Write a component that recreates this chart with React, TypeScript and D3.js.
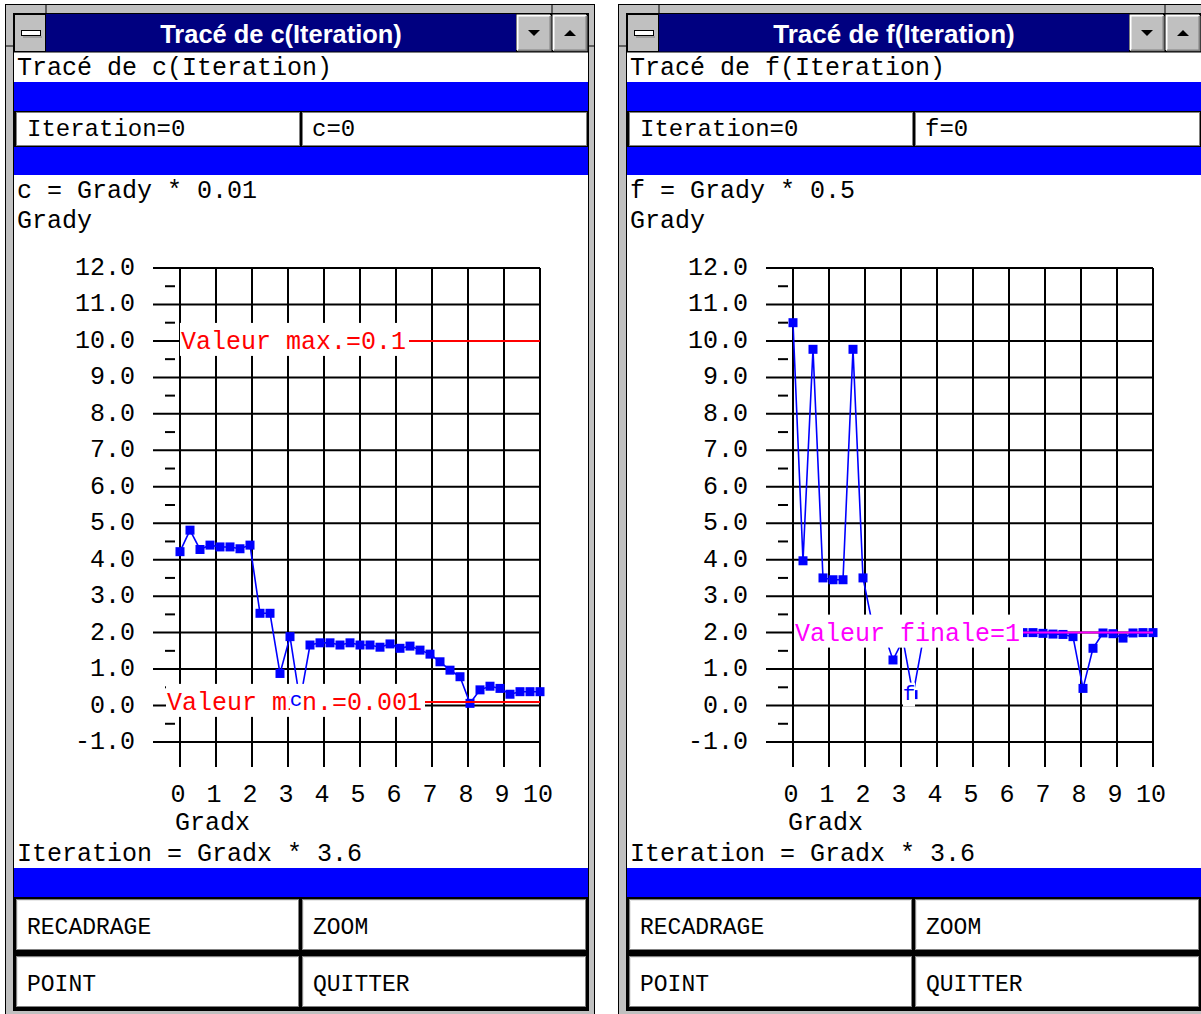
import React from "react";
import { scaleLinear, line, range } from "d3";

// iteration index 0..36, Gradx = Iteration / 3.6
const iterations = range(0, 37);
const gradyTicks = range(-1, 13);
const gradyMinor = range(-0.5, 12, 1);
const gradxTicks = range(0, 11);

// plotted values, in Grady units
const cSeries = [
  4.22, 4.81, 4.28, 4.4, 4.35, 4.35, 4.3, 4.4, 2.53, 2.53, 0.88, 1.89, 0.12,
  1.66, 1.72, 1.72, 1.66, 1.72, 1.66, 1.66, 1.6, 1.69, 1.57, 1.63, 1.52, 1.41,
  1.2, 0.97, 0.79, 0.06, 0.43, 0.53, 0.47, 0.31, 0.38, 0.38, 0.38,
];
const fSeries = [
  10.5, 3.97, 9.77, 3.5, 3.45, 3.45, 9.77, 3.5, 2.15, 2.07, 1.25, 1.8, 0.3,
  1.8, 1.98, 2.0, 1.97, 2.0, 2.0, 1.98, 2.0, 2.0, 2.0, 2.0, 2.0, 1.98, 1.96,
  1.95, 1.89, 0.47, 1.57, 1.99, 1.97, 1.85, 1.99, 2.0, 2.0,
];

const cLimitLabels = ["Valeur max.=0.1", "Valeur min.=0.001"];
const cLimitValues = [10, 0.1];
const fLimitLabels = ["Valeur finale=1"];
const fLimitValues = [2];

const labelIteration = 12;

const MONO = "'Liberation Mono', 'DejaVu Sans Mono', monospace";
const FS = 25;
const CW = 15; // char width at FS

interface WinProps {
  ox: number;
  fn: string;
  factor: string;
  values: number[];
  limitLabels: string[];
  limitValues: number[];
  limitColor: string;
  limitDx: number[];
}

function Bevel({ x, y, w, h }: { x: number; y: number; w: number; h: number }) {
  return (
    <g>
      <rect x={x + 0.5} y={y + 0.5} width={w - 1} height={h - 1} fill="#c0c0c0" stroke="#000" />
      <path d={`M${x + 1.5},${y + h - 2}V${y + 1.5}H${x + w - 2}`} stroke="#fff" strokeWidth={2} fill="none" />
      <path d={`M${x + 2},${y + h - 1.5}H${x + w - 1.5}V${y + 2}`} stroke="#808080" strokeWidth={2} fill="none" />
    </g>
  );
}

function Button({ x, y, w, h, label }: { x: number; y: number; w: number; h: number; label: string }) {
  return (
    <g>
      <rect x={x + 0.5} y={y + 0.5} width={w - 1} height={h - 1} fill="#fff" stroke="#808080" />
      <path d={`M${x + 1.5},${y + h - 2}V${y + 1.5}H${x + w - 2}`} stroke="#e8e8e8" strokeWidth={1} fill="none" />
      <text x={x + 11} y={y + 35} fontFamily={MONO} fontSize={FS - 2} fill="#000">
        {label}
      </text>
    </g>
  );
}

function ChartWindow({ ox, fn, factor, values, limitLabels, limitValues, limitColor, limitDx }: WinProps) {
  const x = scaleLinear().domain([0, 10]).range([ox + 180, ox + 540]);
  const y = scaleLinear().domain([-1, 12]).range([742, 268]);
  const pts: [number, number][] = iterations.map((it, i) => [x(it / 3.6), y(values[i])]);
  const path = line()(pts) || "";
  const title = `Tracé de ${fn}(Iteration)`;
  const lx = x(labelIteration / 3.6) - 4;
  const ly = y(values[labelIteration]);

  return (
    <g>
      {/* window frame */}
      <rect x={ox + 5.5} y={4.5} width={589} height={1030} fill="#c0c0c0" stroke="#000" />
      <line x1={ox + 46} x2={ox + 46} y1={4} y2={13} stroke="#000" />
      <line x1={ox + 552} x2={ox + 552} y1={4} y2={13} stroke="#000" />
      <line x1={ox + 5} x2={ox + 13} y1={46} y2={46} stroke="#000" />
      <line x1={ox + 588} x2={ox + 595} y1={46} y2={46} stroke="#000" />
      <rect x={ox + 13.5} y={13.5} width={575} height={997} fill="#fff" stroke="#000" />

      {/* title bar */}
      <rect x={ox + 14} y={14} width={574} height={38} fill="#000080" />
      <rect x={ox + 14.5} y={14.5} width={31} height={37} fill="#c0c0c0" stroke="#000" />
      <rect x={ox + 21.5} y={30.5} width={19} height={5} fill="#fff" stroke="#000" />
      <line x1={ox + 23} x2={ox + 42} y1={37} y2={37} stroke="#808080" />
      <text
        x={ox + 281}
        y={43}
        textAnchor="middle"
        fill="#fff"
        fontFamily="'Liberation Sans Narrow', 'Arial Narrow', 'Liberation Sans', sans-serif"
        fontWeight="bold"
        fontSize={26}
        textLength={title.length * 11.5}
        lengthAdjust="spacingAndGlyphs"
      >
        {title}
      </text>
      <Bevel x={ox + 516} y={14} w={36} h={38} />
      <Bevel x={ox + 552} y={14} w={36} h={38} />
      <path d={`M${ox + 528},${30}h12l-6,6z`} fill="#000" />
      <path d={`M${ox + 564},${36}h12l-6,-6z`} fill="#000" />
      <line x1={ox + 14} x2={ox + 588} y1={52} y2={52} stroke="#000" />

      {/* header rows */}
      <text x={ox + 17} y={75} fontFamily={MONO} fontSize={FS} fill="#000">
        {title}
      </text>
      <rect x={ox + 14} y={82} width={574} height={29} fill="#0000ff" />
      <rect x={ox + 14} y={111} width={574} height={36} fill="#000" />
      <rect x={ox + 16.5} y={112.5} width={283} height={33} fill="#fff" stroke="#808080" />
      <rect x={ox + 302.5} y={112.5} width={284} height={33} fill="#fff" stroke="#808080" />
      <text x={ox + 27} y={136} fontFamily={MONO} fontSize={FS - 1} fill="#000">
        Iteration=0
      </text>
      <text x={ox + 312} y={136} fontFamily={MONO} fontSize={FS - 1} fill="#000">
        {fn}=0
      </text>
      <rect x={ox + 14} y={147} width={574} height={28} fill="#0000ff" />

      <text x={ox + 17} y={198} fontFamily={MONO} fontSize={FS} fill="#000" xmlSpace="preserve">
        {`${fn} = Grady * ${factor}`}
      </text>
      <text x={ox + 17} y={228} fontFamily={MONO} fontSize={FS} fill="#000">
        Grady
      </text>

      {/* grid */}
      {gradyTicks.map((v) => (
        <line key={"h" + v} x1={x(0) - 27} x2={x(10)} y1={y(v)} y2={y(v)} stroke="#000" strokeWidth={2} />
      ))}
      {gradyMinor.map((v) => (
        <line key={"m" + v} x1={x(0) - 15} x2={x(0) - 5} y1={y(v)} y2={y(v)} stroke="#000" strokeWidth={2} />
      ))}
      {gradxTicks.map((v) => (
        <line key={"v" + v} x1={x(v)} x2={x(v)} y1={y(12)} y2={y(-1) + 25} stroke="#000" strokeWidth={2} />
      ))}
      {gradyTicks.map((v) => (
        <text key={"yl" + v} x={x(0) - 45} y={y(v) + 7} textAnchor="end" fontFamily={MONO} fontSize={FS} fill="#000">
          {v.toFixed(1)}
        </text>
      ))}
      {gradxTicks.map((v) => (
        <text key={"xl" + v} x={x(v) - 2} y={802} textAnchor="middle" fontFamily={MONO} fontSize={FS} fill="#000">
          {v}
        </text>
      ))}
      <text x={x(0) - 5} y={830} fontFamily={MONO} fontSize={FS} fill="#000">
        Gradx
      </text>
      <text x={ox + 17} y={861} fontFamily={MONO} fontSize={FS} fill="#000" xmlSpace="preserve">
        {"Iteration = Gradx * 3.6"}
      </text>

      {/* data */}
      <path d={path} fill="none" stroke="#0000ff" strokeWidth={1.6} />
      {pts.map(([px, py], i) => (
        <rect key={"p" + i} x={px - 4.5} y={py - 4.5} width={9} height={9} fill="#0000ff" />
      ))}

      {/* limit annotations */}
      {limitLabels.map((lab, i) => {
        const sx = x(0) + limitDx[i];
        const ey = y(limitValues[i]);
        const ex = sx + lab.length * CW;
        return (
          <g key={"lim" + i}>
            <rect x={sx - 1} y={ey - 18} width={ex - sx + 4} height={33} fill="#fff" />
            <line x1={ex + 3} x2={x(10)} y1={ey} y2={ey} stroke={limitColor} strokeWidth={2} />
            <text x={sx} y={ey + 8} fontFamily={MONO} fontSize={FS} fill={limitColor}>
              {lab}
            </text>
          </g>
        );
      })}

      {/* series label */}
      <rect x={lx - 6} y={ly - 12} width={12} height={24} fill="#fff" />
      <text x={lx} y={ly + 5} textAnchor="middle" fontFamily={MONO} fontSize={21} fill="#0000ff">
        {fn}
      </text>

      {/* bottom bar and buttons */}
      <rect x={ox + 14} y={868} width={574} height={29} fill="#0000ff" />
      <rect x={ox + 14} y={897} width={574} height={113} fill="#000" />
      <Button x={ox + 16} y={899} w={283} h={51} label="RECADRAGE" />
      <Button x={ox + 302} y={899} w={284} h={51} label="ZOOM" />
      <Button x={ox + 16} y={956} w={283} h={51} label="POINT" />
      <Button x={ox + 302} y={956} w={284} h={51} label="QUITTER" />
    </g>
  );
}

export default function App() {
  return (
    <svg width={1201} height={1014} style={{ position: "absolute", left: 0, top: 0 }}>
      <rect width={1201} height={1014} fill="#fff" />
      <ChartWindow
        ox={0}
        fn="c"
        factor="0.01"
        values={cSeries}
        limitLabels={cLimitLabels}
        limitValues={cLimitValues}
        limitColor="#ff0000"
        limitDx={[1, -13]}
      />
      <ChartWindow
        ox={613}
        fn="f"
        factor="0.5"
        values={fSeries}
        limitLabels={fLimitLabels}
        limitValues={fLimitValues}
        limitColor="#ff00ff"
        limitDx={[2]}
      />
    </svg>
  );
}
